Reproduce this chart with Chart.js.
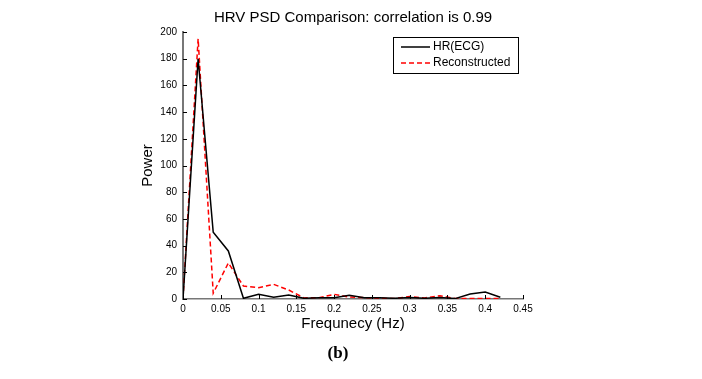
<!DOCTYPE html>
<html>
<head>
<meta charset="utf-8">
<script src="https://cdn.jsdelivr.net/npm/chart.js@4/dist/chart.umd.min.js"></script>
<style>
  html, body { margin: 0; padding: 0; background: #fff; }
  #wrap { width: 702px; height: 379px; position: relative; }
</style>
</head>
<body>
<div id="wrap"><canvas id="c" width="702" height="379"></canvas></div>
<script>
const chartTitle = 'HRV PSD Comparison: correlation is 0.99';
const xAxisTitle = 'Frequnecy (Hz)';
const yAxisTitle = 'Power';
const panelLabel = '(b)';
const seriesNames = ['HR(ECG)', 'Reconstructed'];

const frequencies = [0, 0.02, 0.04, 0.06, 0.08, 0.10, 0.12, 0.14, 0.16, 0.18, 0.20,
                     0.22, 0.24, 0.26, 0.28, 0.30, 0.32, 0.34, 0.36, 0.38, 0.40, 0.42];
const hrEcg =        [0, 180, 50, 36, 0.5, 3.5, 1.3, 3, 0.5, 1, 1,
                      2.8, 1, 1, 0.5, 1.2, 0.5, 1.2, 0.3, 3.7, 5.2, 1.3];
const reconstructed = [0, 195, 4.3, 27, 9.7, 8.5, 11, 6.7, 0.8, 1, 3.5,
                      1.5, 1, 0.5, 0.4, 1.8, 0.8, 2.5, 0.4, 0.4, 0.4, 0.4];

const xTicksMin = 0, xTicksMax = 0.45, xStep = 0.05;
const yTicksMin = 0, yTicksMax = 200, yStep = 20;

const toPoints = (vals) => frequencies.map((f, i) => ({ x: f, y: vals[i] }));
const SANS = '"Liberation Sans", Arial, sans-serif';

const inwardTicks = {
  id: 'inwardTicks',
  afterDraw(chart) {
    const ctx = chart.ctx;
    const xs = chart.scales.x, ys = chart.scales.y;
    const a = chart.chartArea;
    ctx.save();
    ctx.strokeStyle = '#000';
    ctx.lineWidth = 1;
    ctx.beginPath();
    xs.ticks.forEach(t => {
      const px = Math.round(xs.getPixelForValue(t.value)) + 0.5;
      ctx.moveTo(px, a.bottom);
      ctx.lineTo(px, a.bottom - 4);
    });
    ys.ticks.forEach(t => {
      const py = Math.round(ys.getPixelForValue(t.value)) + 0.5;
      ctx.moveTo(a.left, py);
      ctx.lineTo(a.left + 4, py);
    });
    ctx.stroke();
    ctx.restore();
  }
};

const texts = {
  id: 'texts',
  afterDraw(chart) {
    const ctx = chart.ctx;
    const a = chart.chartArea;
    ctx.save();
    ctx.fillStyle = '#000';
    ctx.textAlign = 'center';
    ctx.textBaseline = 'middle';
    ctx.font = '15px ' + SANS;
    ctx.fillText(chartTitle, (a.left + a.right) / 2, 17.5);
    ctx.font = 'bold 17px "Liberation Serif", "Times New Roman", serif';
    ctx.fillText(panelLabel, 338, 354);
    ctx.restore();
  }
};

const boxLegend = {
  id: 'boxLegend',
  afterDraw(chart) {
    const ctx = chart.ctx;
    const a = chart.chartArea;
    const bx = a.right - 130, by = a.top + 5, bw = 125, bh = 36;
    ctx.save();
    ctx.fillStyle = '#fff';
    ctx.fillRect(bx, by, bw, bh);
    ctx.strokeStyle = '#000';
    ctx.lineWidth = 1;
    ctx.strokeRect(bx + 0.5, by + 0.5, bw, bh);
    ctx.font = '12px ' + SANS;
    ctx.textBaseline = 'middle';
    ctx.textAlign = 'left';
    chart.data.datasets.forEach((ds, i) => {
      const ry = by + 10 + i * 16;
      ctx.strokeStyle = ds.borderColor;
      ctx.lineWidth = ds.borderWidth;
      ctx.setLineDash(ds.borderDash || []);
      ctx.beginPath();
      ctx.moveTo(bx + 8, ry);
      ctx.lineTo(bx + 37, ry);
      ctx.stroke();
      ctx.setLineDash([]);
      ctx.fillStyle = '#000';
      ctx.fillText(ds.label, bx + 40, ry);
    });
    ctx.restore();
  }
};

new Chart(document.getElementById('c'), {
  type: 'line',
  data: {
    datasets: [
      { label: seriesNames[0], data: toPoints(hrEcg), borderColor: '#000000',
        borderWidth: 1.5, pointRadius: 0, tension: 0, fill: false },
      { label: seriesNames[1], data: toPoints(reconstructed), borderColor: '#ff0000',
        borderWidth: 1.5, borderDash: [5, 3], pointRadius: 0, tension: 0, fill: false }
    ]
  },
  options: {
    responsive: false,
    animation: false,
    devicePixelRatio: 1,
    layout: { padding: { left: 130, right: 179, top: 32, bottom: 37 } },
    plugins: {
      legend: { display: false },
      tooltip: { enabled: false },
      title: { display: false },
      subtitle: { display: false }
    },
    scales: {
      x: {
        type: 'linear', min: xTicksMin, max: xTicksMax,
        grid: { display: false, drawTicks: false },
        border: { display: true, color: '#777', width: 1.5 },
        ticks: { stepSize: xStep, padding: 4, color: '#000', maxRotation: 0,
                 font: { family: SANS, size: 10 },
                 callback: (v) => String(Math.round(v * 100) / 100) },
        title: { display: true, text: xAxisTitle, color: '#000',
                 font: { family: SANS, size: 15, lineHeight: 1.2 },
                 padding: { top: 0, bottom: 9 } },
        afterFit: (s) => { s.height = 43; }
      },
      y: {
        type: 'linear', min: yTicksMin, max: yTicksMax,
        grid: { display: false, drawTicks: false },
        border: { display: true, color: '#777', width: 2 },
        ticks: { stepSize: yStep, padding: 6, color: '#000',
                 font: { family: SANS, size: 10 } },
        title: { display: true, text: yAxisTitle, color: '#000',
                 font: { family: SANS, size: 15, lineHeight: 1.2 },
                 padding: { top: 9, bottom: 0 } },
        afterFit: (s) => { s.width = 53; }
      }
    }
  },
  plugins: [inwardTicks, boxLegend, texts]
});
</script>
</body>
</html>
